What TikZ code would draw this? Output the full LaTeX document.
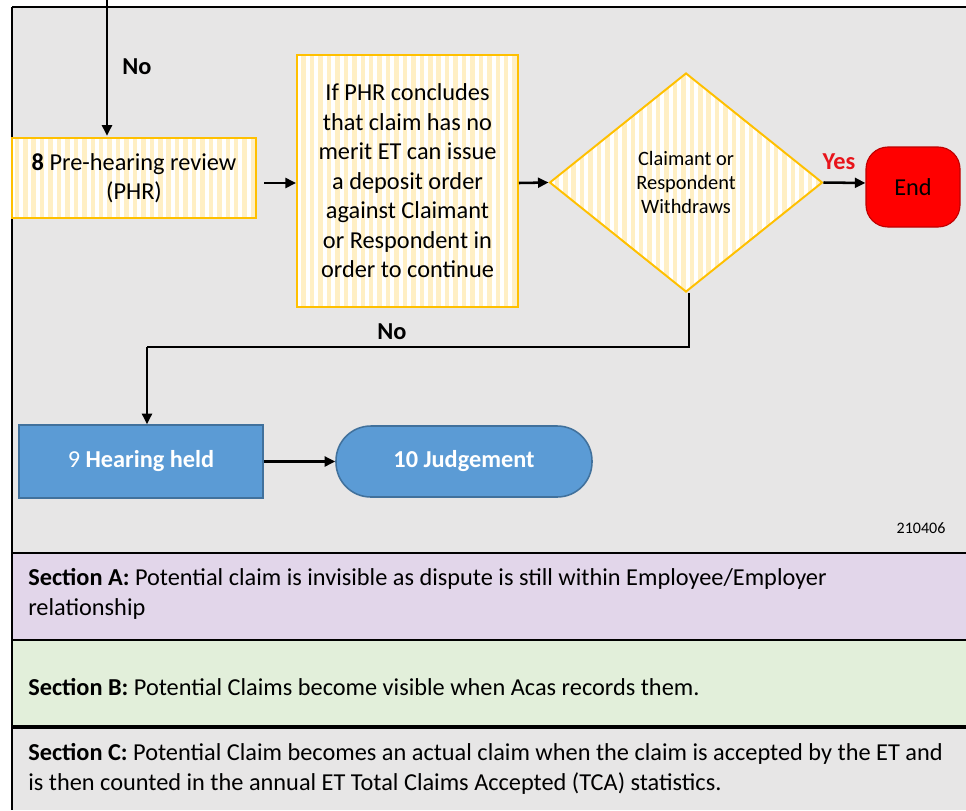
\documentclass[tikz,border=0pt]{standalone}
\usepackage{fontspec}
\setmainfont{Carlito}
\usetikzlibrary{arrows.meta,shapes.geometric,patterns.meta}

\definecolor{panel}{HTML}{E7E6E6}
\definecolor{lavender}{HTML}{E2D6EA}
\definecolor{mint}{HTML}{E2EFDA}
\definecolor{gold}{HTML}{FFC000}
\definecolor{stripe}{HTML}{FFEFC4}
\definecolor{bluefill}{HTML}{5B9BD5}
\definecolor{blueedge}{HTML}{41719C}
\definecolor{endred}{HTML}{FF0000}
\definecolor{endedge}{HTML}{C00000}
\definecolor{yesred}{HTML}{E8141B}

\def\u{0.025cm}

\tikzset{
  bigtext/.style={font=\fontsize{17.3}{20.5}\selectfont},
  hatched/.style={draw=gold, line width=1.4pt, preaction={fill=white},
    pattern={Lines[angle=90,distance=6pt,line width=3.2pt]}, pattern color=stripe,
    inner sep=0pt, align=center, bigtext},
  bluebox/.style={draw=blueedge, line width=1.1pt, fill=bluefill, text=white,
    inner sep=0pt, align=center, bigtext},
  arr/.style={line width=1.8pt, -{Triangle[length=7.5pt,width=7pt]}},
  lbl/.style={font=\fontsize{17.3}{20.5}\selectfont\bfseries},
  divider/.style={line width=1.6pt, black},
  sectiontext/.style={anchor=west, align=left, inner sep=0pt,
    font=\fontsize{17.3}{21}\selectfont},
}

\begin{document}
\begin{tikzpicture}[x=0.025cm, y=-0.025cm]
  \useasboundingbox (0,0) rectangle (966,810);
  \fill[white] (0,0) rectangle (966,810);

  % panel and section bands
  \fill[panel] (12,7) rectangle (966,553);
  \fill[lavender] (12,553) rectangle (966,640);
  \fill[mint] (12,640) rectangle (966,727);
  \fill[panel] (12,727) rectangle (966,810);

  \draw[line width=1.8pt] (12,7) -- (966,7);
  \draw[line width=1.4pt] (12,7) -- (12,810);
  \draw[divider] (12,553) -- (966,553);
  \draw[divider] (12,640) -- (966,640);
  \draw[line width=2.2pt] (12,727) -- (966,727);

  % flow nodes
  \node[hatched, minimum width=244*\u, minimum height=80*\u] (phr) at (134,178)
    {\textbf{8} Pre-hearing review\\(PHR)};
  \node[hatched, minimum width=221*\u, minimum height=252*\u,
        font=\fontsize{17.3}{21}\selectfont] (mid) at (407.5,181)
    {If PHR concludes\\that claim has no\\merit ET can issue\\a deposit order\\against Claimant\\or Respondent in\\order to continue};
  \node[hatched, shape=diamond, minimum width=273*\u, minimum height=219*\u,
        font=\fontsize{14.5}{17.4}\selectfont] (dia) at (686,182.5)
    {Claimant or\\Respondent\\Withdraws};
  \node[draw=endedge, line width=0.8pt, fill=endred, rounded corners=0.55cm,
        minimum width=94*\u, minimum height=80*\u, inner sep=0pt, bigtext] (end) at (913,187) {End};
  \node[bluebox, minimum width=244*\u, minimum height=73*\u] (h9) at (141,461.5)
    {9 \textbf{Hearing held}};
  \node[bluebox, rounded corners=0.87cm, minimum width=256*\u, minimum height=71*\u] (j10) at (464,461.5)
    {\textbf{10 Judgement}};

  % connectors
  \coordinate (topin) at (107,0);
  \draw[arr] (topin) -- (topin |- phr.north);
  \node[lbl] at (137,67) {No};

  \coordinate (row) at (0,183);
  \draw[arr, shorten <=0.15cm] (phr.east |- row) -- (mid.west |- row);
  \draw[arr] (mid.east |- row) -- (dia.west);
  \draw[arr] (dia.east) -- (end.west |- row);
  \node[lbl, text=yesred] at (839,162) {Yes};

  \coordinate (bend) at (147,347);
  \coordinate (drop) at (689,347);
  \draw[line width=1.8pt] (dia.south -| drop) -- (drop) -- (bend);
  \draw[arr] (bend) -- (bend |- h9.north);
  \node[lbl] at (392,332) {No};

  \draw[arr] (h9.east) -- (j10.west);

  \node[font=\fontsize{11.4}{13}\selectfont] (stamp) at (921,528) {210406};

  % section notes
  \node[sectiontext] (secA) at (28,594)
    {\textbf{Section A:} Potential claim is invisible as dispute is still within Employee/Employer\\relationship};
  \node[sectiontext] (secB) at (28,687)
    {\textbf{Section B:} Potential Claims become visible when Acas records them.};
  \node[sectiontext] (secC) at (28,769)
    {\textbf{Section C:} Potential Claim becomes an actual claim when the claim is accepted by the ET and\\is then counted in the annual ET Total Claims Accepted (TCA) statistics.};
\end{tikzpicture}
\end{document}
